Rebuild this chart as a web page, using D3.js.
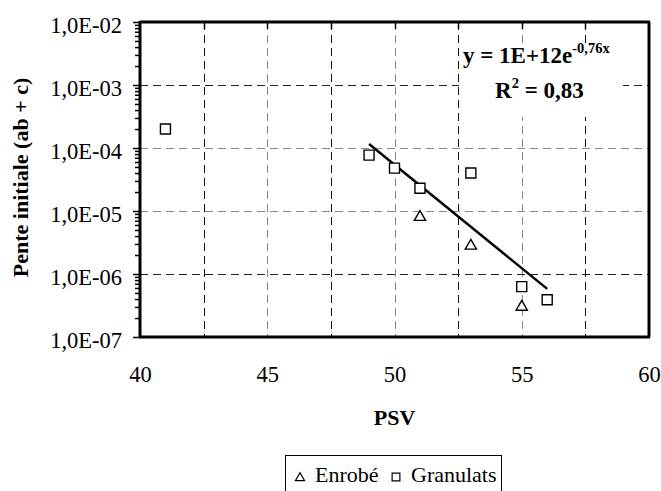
<!DOCTYPE html>
<html>
<head>
<meta charset="utf-8">
<script src="https://cdn.jsdelivr.net/npm/d3@7"></script>
</head>
<body style="margin:0">
<svg id="chart" width="661" height="491"></svg>
<script>
// ---- Data ----
const enrobePSV = [51, 53, 55];
const enrobeVal = [8.0e-6, 2.8e-6, 3.0e-7];
const granulatsPSV = [41, 49, 50, 51, 53, 55, 56];
const granulatsVal = [2.0e-4, 7.7e-5, 4.8e-5, 2.3e-5, 4.0e-5, 6.3e-7, 3.9e-7];
const trendPSV = [49, 56];
const trendVal = [1.16e-4, 5.8e-7];
const xTickLabels = [40, 45, 50, 55, 60];
const xGridValues = [42.5, 45, 47.5, 50, 52.5, 55, 57.5];
const yTickValues = [1e-7, 1e-6, 1e-5, 1e-4, 1e-3, 1e-2];
const equationText = "y = 1E+12e";
const equationExp = "-0,76x";
const r2Label = "R";
const r2Value = " = 0,83";
const xTitle = "PSV";
const yTitle = "Pente initiale (ab + c)";
const legendNames = ["Enrobé", "Granulats"];

// ---- Layout ----
const FONT = '"Liberation Serif"';
const svg = d3.select("#chart");
const L = 140, R = 649, T = 22, B = 337;
const x = d3.scaleLinear().domain([40, 60]).range([L, R]);
const y = d3.scaleLog().domain([1e-7, 1e-2]).range([B, T]);

function txt(sel, size, bold) {
  return sel.style("font-family", FONT).attr("font-size", size).attr("font-weight", bold ? "bold" : null).attr("fill", "#000");
}

// gridlines
const g = svg.append("g");
g.selectAll(".vg").data(xGridValues).enter().append("line")
  .attr("x1", d => Math.round(x(d)) + 0.5).attr("x2", d => Math.round(x(d)) + 0.5)
  .attr("y1", T).attr("y2", B)
  .attr("stroke", (d, i) => i % 2 === 0 ? "#111" : "#888")
  .attr("stroke-width", 1).attr("stroke-dasharray", "8,5");
g.selectAll(".hg").data(yTickValues.slice(1, -1)).enter().append("line")
  .attr("x1", L).attr("x2", R)
  .attr("y1", d => Math.round(y(d)) + 0.5).attr("y2", d => Math.round(y(d)) + 0.5)
  .attr("stroke", d => (d === 1e-3 || d === 1e-6) ? "#222" : "#888")
  .attr("stroke-width", 1).attr("stroke-dasharray", "8,5");

// white box behind equation
svg.append("rect").attr("x", 459).attr("y", 43).attr("width", 164).attr("height", 74).attr("fill", "#fff");

// frame: top & right borders
svg.append("line").attr("x1", L).attr("x2", R + 1).attr("y1", T).attr("y2", T).attr("stroke", "#000").attr("stroke-width", 3);
svg.append("line").attr("x1", R).attr("x2", R).attr("y1", T).attr("y2", B).attr("stroke", "#000").attr("stroke-width", 3);
svg.selectAll(".tt").data(xGridValues).enter().append("line")
  .attr("x1", d => Math.round(x(d)) + 0.5).attr("x2", d => Math.round(x(d)) + 0.5)
  .attr("y1", T).attr("y2", T + 7).attr("stroke", "#000").attr("stroke-width", 1.5);

// y axis (minor ticks)
const minorTicks = [];
for (let e = -7; e < -2; e++) for (let m = 2; m <= 9; m++) minorTicks.push(m * Math.pow(10, e));
svg.append("g").attr("transform", `translate(${L},0)`)
  .call(d3.axisLeft(y).tickValues(minorTicks).tickSize(5).tickFormat(""))
  .call(a => a.select(".domain").remove())
  .call(a => a.selectAll("line").attr("stroke-width", 1.5));

// y axis (major)
const fmt = v => { const e = Math.round(Math.log10(v)); return "1,0E-" + String(-e).padStart(2, "0"); };
const ya = svg.append("g").attr("transform", `translate(${L},0)`)
  .call(d3.axisLeft(y).tickValues(yTickValues).tickSize(7).tickPadding(11).tickFormat(fmt));
ya.attr("font-family", null).attr("font-size", null);
ya.select(".domain").attr("stroke-width", 3).attr("d", `M0,${B + 1}V${T - 1}`);
ya.selectAll("line").attr("stroke-width", 1.5);
txt(ya.selectAll("text"), 22.5, false).attr("dy", "0.45em");

// x axis
const xa = svg.append("g").attr("transform", `translate(0,${B})`)
  .call(d3.axisBottom(x).tickValues(xTickLabels).tickSize(0).tickPadding(29).tickFormat(d3.format("d")));
xa.attr("font-family", null).attr("font-size", null);
xa.select(".domain").attr("stroke-width", 3).attr("d", `M${L - 1},0H${R + 1}`);
txt(xa.selectAll("text"), 22.5, false);

// axis titles
txt(svg.append("text").attr("x", x(50)).attr("y", 425).attr("text-anchor", "middle"), 22, true).text(xTitle);
txt(svg.append("text").attr("transform", `translate(28,${(T + B) / 2 - 2}) rotate(-90)`).attr("text-anchor", "middle"), 22, true).text(yTitle);

// trend line
svg.append("path")
  .datum(trendPSV.map((d, i) => [d, trendVal[i]]))
  .attr("d", d3.line().x(d => x(d[0])).y(d => y(d[1])))
  .attr("fill", "none").attr("stroke", "#000").attr("stroke-width", 2.5);

// markers
const tri = d3.symbol().type(d3.symbolTriangle).size(55);
const sq = d3.symbol().type(d3.symbolSquare).size(100);
svg.selectAll(".en").data(enrobePSV.map((d, i) => [d, enrobeVal[i]])).enter().append("path")
  .attr("d", tri).attr("transform", d => `translate(${x(d[0])},${y(d[1])})`)
  .attr("fill", "#fff").attr("stroke", "#000").attr("stroke-width", 1.4);
svg.selectAll(".gr").data(granulatsPSV.map((d, i) => [d, granulatsVal[i]])).enter().append("path")
  .attr("d", sq).attr("transform", d => `translate(${x(d[0])},${y(d[1])})`)
  .attr("fill", "#fff").attr("stroke", "#000").attr("stroke-width", 1.4);

// equation
const eq = txt(svg.append("text").attr("x", 463).attr("y", 63), 23, true);
eq.append("tspan").text(equationText);
eq.append("tspan").attr("dy", -10).attr("font-size", 14.5).text(equationExp);
const r2 = txt(svg.append("text").attr("x", 495).attr("y", 98), 23, true);
r2.append("tspan").text(r2Label);
r2.append("tspan").attr("dy", -10).attr("font-size", 14.5).text("2");
r2.append("tspan").attr("dy", 10).text(r2Value);

// legend
svg.append("rect").attr("x", 285.5).attr("y", 455.5).attr("width", 216).attr("height", 45)
  .attr("fill", "#fff").attr("stroke", "#000").attr("stroke-width", 1);
const lt = d3.symbol().type(d3.symbolTriangle).size(36);
const ls = d3.symbol().type(d3.symbolSquare).size(60);
svg.append("path").attr("d", lt).attr("transform", "translate(300,478)").attr("fill", "#fff").attr("stroke", "#000").attr("stroke-width", 1.2);
txt(svg.append("text").attr("x", 315).attr("y", 482), 22, false).text(legendNames[0]);
svg.append("path").attr("d", ls).attr("transform", "translate(396,477)").attr("fill", "#fff").attr("stroke", "#000").attr("stroke-width", 1.2);
txt(svg.append("text").attr("x", 411).attr("y", 482), 22, false).text(legendNames[1]);
</script>
</body>
</html>
